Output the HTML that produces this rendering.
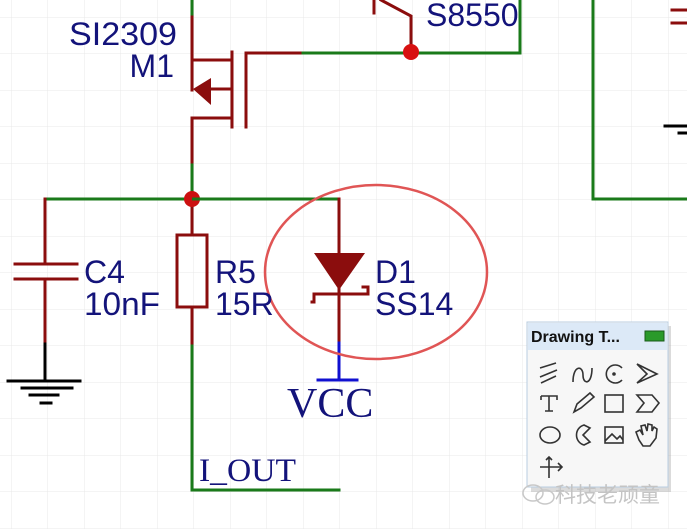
<!DOCTYPE html>
<html><head><meta charset="utf-8"><style>
html,body{margin:0;padding:0;background:#fff;}
svg{display:block;}
.lbl{font-family:"Liberation Sans",sans-serif;fill:#13137a;font-size:32px;}
.ser{font-family:"Liberation Serif",serif;fill:#13137a;}
</style></head><body>
<svg width="687" height="529" viewBox="0 0 687 529" xmlns="http://www.w3.org/2000/svg">
<defs>
<pattern id="g" x="11" y="17" width="36.5" height="36.5" patternUnits="userSpaceOnUse">
<path d="M0 0H36.5M0 0V36.5" stroke="#e8e8e8" stroke-width="1" fill="none"/>
</pattern>
</defs>
<rect width="687" height="529" fill="#fff"/>
<rect width="687" height="529" fill="url(#g)"/>

<g fill="none" stroke-linecap="square">
<g stroke="#1a7a1a" stroke-width="3">
<path d="M192 0V17"/>
<path d="M300 53H520V0"/>
<path d="M192 162V199"/>
<path d="M45 199H339"/>
<path d="M192 343V490H339"/>
<path d="M593 0V199H687"/>
</g>
<g stroke="#8b0d0d" stroke-width="3">
<path d="M192 17V90"/>
<path d="M192 60H232"/>
<path d="M211 89H232"/>
<path d="M192 118H232"/>
<path d="M192 118V162"/>
<path d="M232 52V127"/>
<path d="M246 53V127"/>
<path d="M246 53H300"/>
<path d="M374 0V13"/>
<path d="M381 0L411 16V52"/>
<path d="M45 199V264"/>
<path d="M15 264H77M15 279H77"/>
<path d="M45 279V344"/>
<path d="M192 199V235"/>
<rect x="177" y="235" width="30" height="72"/>
<path d="M192 307V343"/>
<path d="M339 199V343"/>
<path d="M314 302V294H368V287H363"/>
<path d="M314 302H312"/>
<path d="M672 10H687M672 23H687"/>
</g>
<path d="M193 89L211 78V105Z" fill="#8b0d0d"/>
<path d="M314 253H365L339 290Z" fill="#8b0d0d"/>
<g stroke="#000" stroke-width="3">
<path d="M45 344V380"/>
<path d="M8 381H80"/>
<path d="M22 388H72"/>
<path d="M30 395H58"/>
<path d="M41 403H51"/>
<path d="M665 126H687M679 133H687"/>
</g>
<g stroke="#1010d0" stroke-width="3">
<path d="M339 343V380"/>
<path d="M318 380H357"/>
</g>
</g>
<circle cx="192" cy="199" r="8" fill="#cc1010"/>
<path d="M192 199H200" stroke="#1a7a1a" stroke-width="3"/>
<circle cx="411" cy="52" r="8" fill="#d81010"/>

<ellipse cx="376" cy="272" rx="111" ry="87" fill="none" stroke="#e05555" stroke-width="2.5"/>

<text class="lbl" x="69" y="45" textLength="108" lengthAdjust="spacingAndGlyphs">SI2309</text>
<text class="lbl" x="174" y="77" text-anchor="end">M1</text>
<text class="lbl" x="426" y="26">S8550</text>
<text class="lbl" x="84" y="283">C4</text>
<text class="lbl" x="84" y="315" textLength="76" lengthAdjust="spacingAndGlyphs">10nF</text>
<text class="lbl" x="215" y="283">R5</text>
<text class="lbl" x="215" y="315">15R</text>
<text class="lbl" x="375" y="283">D1</text>
<text class="lbl" x="375" y="315">SS14</text>
<text class="ser" x="287" y="417" font-size="42">VCC</text>
<text class="ser" x="199" y="481" font-size="33" textLength="97" lengthAdjust="spacingAndGlyphs">I_OUT</text>

<rect x="531" y="326" width="140" height="166" fill="#999" opacity="0.35"/>
<rect x="527" y="322" width="141" height="165" fill="#f7f7f7" stroke="#b9cde0" stroke-width="1"/>
<rect x="528" y="323" width="139" height="27" fill="#dce9f7"/>
<text x="531" y="342" font-family="Liberation Sans,sans-serif" font-weight="bold" font-size="16" fill="#111">Drawing T...</text>
<rect x="645" y="331" width="19" height="10" fill="#2a9a2a" stroke="#1a5a1a" stroke-width="1"/>
<g fill="none" stroke="#333" stroke-width="1.6">
<path d="M540 368L556 363M540 377L557 370M541 383L556 376"/>
<path d="M573 382C573 365 583 365 583 375C583 385 592 385 592 368"/>
<path d="M622 368A9 9 0 1 0 622 380"/><circle cx="614" cy="374" r="1" fill="#333"/>
<path d="M637 364L657 374L637 383L647 374Z"/>
<path d="M541 396H557V400M541 396V400M549 396V411M545 411H553"/>
<path d="M574 412L577 404L590 393L594 397L581 408Z"/>
<rect x="605" y="395" width="18" height="17"/>
<path d="M637 395H652L659 403L652 412H637L644 403Z"/>
<ellipse cx="550" cy="435" rx="10" ry="8"/>
<path d="M590 428L584 425C574 428 574 442 584 445L590 442L583 435Z"/>
<rect x="605" y="427" width="18" height="16"/><path d="M605 441L612 434L617 439L620 436L623 440"/>
<path d="M639 440L636 432L640 430L643 435L641 426L645 425L647 431L648 424L652 425L652 431L654 427L657 429L656 438L650 446L643 446Z"/>
<path d="M540 467H562M558 463L562 467L558 471M549 457V478M546 460L549 457L552 460"/>
</g>

<g fill="none" stroke="#c8c8c8" stroke-width="1.5">
<ellipse cx="533" cy="493" rx="10" ry="8"/>
<ellipse cx="545" cy="497" rx="9" ry="7"/>
</g>
<text x="555" y="502" font-family="Noto Sans CJK SC,sans-serif" font-size="21" fill="#c4c4c4">科技老顽童</text>
</svg>
</body></html>
